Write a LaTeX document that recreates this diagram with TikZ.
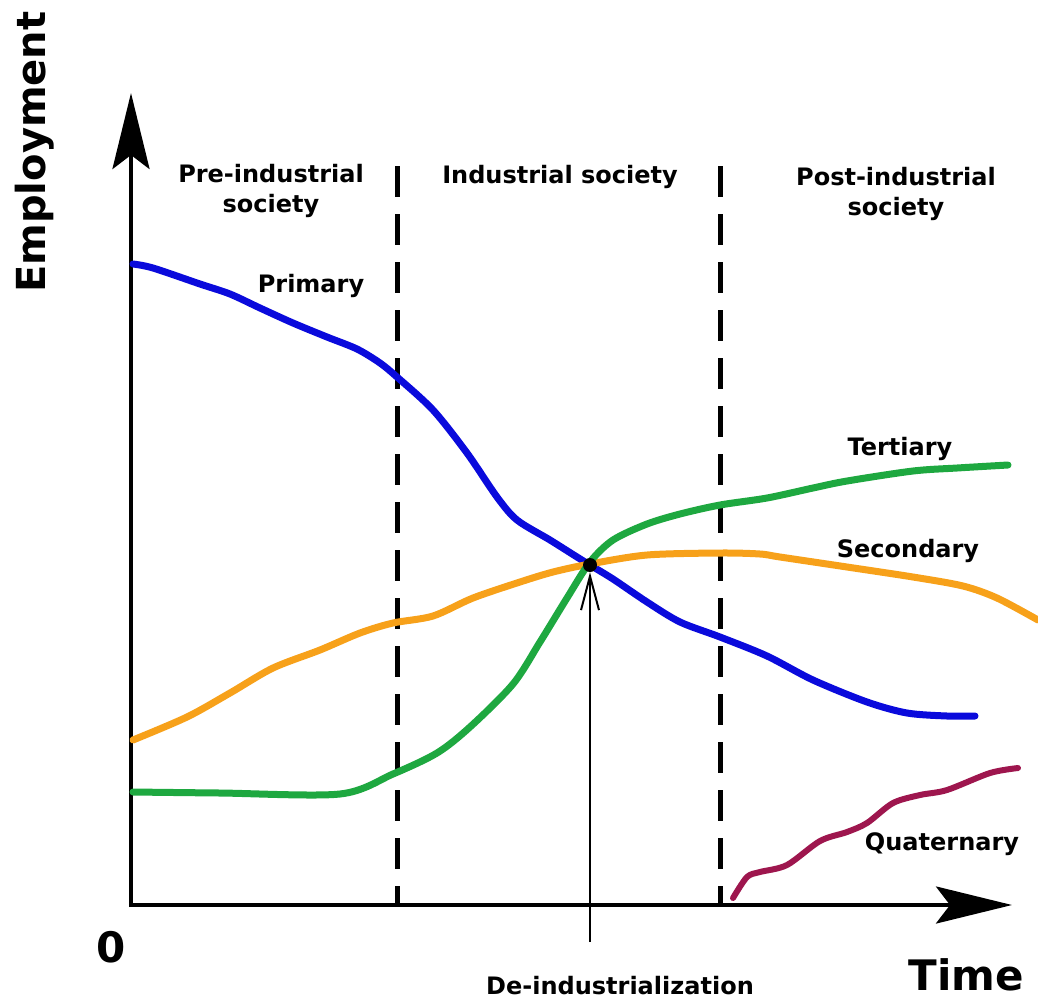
\documentclass[tikz,border=0pt]{standalone}
\usepackage{fontspec}
\setmainfont{DejaVu Sans}
\usetikzlibrary{arrows.meta}
\definecolor{cprim}{RGB}{10,10,220}
\definecolor{csec}{RGB}{247,161,26}
\definecolor{cter}{RGB}{30,168,64}
\definecolor{cquat}{RGB}{158,22,78}
\begin{document}
\begin{tikzpicture}[x=1pt,y=-1pt,
  lbl/.style={font=\fontsize{24}{30}\selectfont\bfseries, inner sep=0pt, align=center},
  biglbl/.style={font=\fontsize{42}{48}\selectfont\bfseries, inner sep=0pt},
  axisline/.style={line width=4pt, -{Stealth[length=76pt,width=37pt,inset=14pt]}},
  divider/.style={line width=5pt, dash pattern=on 31pt off 17pt},
  curve/.style={line width=7pt, line cap=round, line join=round},
]
\useasboundingbox (0,0) rectangle (1038,999);
% axes
\coordinate (O) at (131,905);
\coordinate (Ytip) at (131,93);
\coordinate (Xtip) at (1012,905);
\draw[axisline] (131,907) -- (Ytip);
\draw[axisline] (129,905) -- (Xtip);
% dividers
\coordinate (d1t) at (397,166);
\coordinate (d1b) at (397,905);
\coordinate (d2t) at (720,166);
\coordinate (d2b) at (720,905);
\draw[divider] (d1t) -- (d1b);
\draw[divider] (d2t) -- (d2b);
% curves
\draw[curve, cprim] plot[smooth, tension=0.5] coordinates {
 (133,264) (153,268) (200,284) (230,294) (260,308) (293,323) (327,337) (357,349)
 (380,363) (397,377) (433,410) (467,453) (497,497) (517,520) (550,540) (577,557)
 (590,565) (613,579) (647,602) (680,622) (720,637) (767,656) (813,680) (867,702)
 (907,713) (947,716) (975,716)};
\draw[curve, csec] plot[smooth, tension=0.5] coordinates {
 (133,740) (187,717) (230,693) (273,668) (320,650) (360,633) (393,623) (433,616)
 (473,598) (520,582) (553,572) (590,564) (647,555) (720,553) (760,554) (780,557)
 (847,567) (913,577) (963,586) (997,598) (1038,620)};
\draw[curve, cter] plot[smooth, tension=0.5] coordinates {
 (133,792) (220,793) (340,794) (393,774) (437,753) (470,727) (513,684) (540,642)
 (567,598) (590,562) (613,540) (647,524) (680,514) (720,505) (767,498) (813,488)
 (847,481) (913,471) (957,468) (1008,465)};
\draw[curve, cquat, line width=6pt] plot[smooth, tension=0.5] coordinates {
 (733,898) (747,877) (760,872) (787,865) (820,841) (847,832) (867,823) (893,803)
 (920,795) (947,790) (990,773) (1018,768)};
% intersection
\node[circle, fill=black, inner sep=0pt, minimum size=14pt] (dot) at (590,565) {};
% labels
\node[biglbl, rotate=90, anchor=base west, font=\fontsize{40}{46}\selectfont\bfseries] (ylab) at (45,293) {Employment};
\node[biglbl, anchor=base] (zero) at (111,962) {0};
\node[biglbl, anchor=base] (xlab) at (966,990) {Time};
\node[lbl, anchor=base] (pre) at (271,212) {Pre-industrial\\society};
\node[lbl, anchor=base] (ind) at (560,183) {Industrial society};
\node[lbl, anchor=base] (post) at (896,215) {Post-industrial\\society};
\node[lbl, anchor=base] (prim) at (311,292) {Primary};
\node[lbl, anchor=base] (ter) at (900,455) {Tertiary};
\node[lbl, anchor=base] (sec) at (908,557) {Secondary};
\node[lbl, anchor=base] (quat) at (942,850) {Quaternary};
\node[lbl, anchor=base] (deind) at (620,994) {De-industrialization};
% arrow to the dot
\coordinate (astart) at (590,942);
\draw[line width=2pt, -{Straight Barb[length=34pt,width=18pt]}] (astart) -- (dot.south);
\end{tikzpicture}
\end{document}
